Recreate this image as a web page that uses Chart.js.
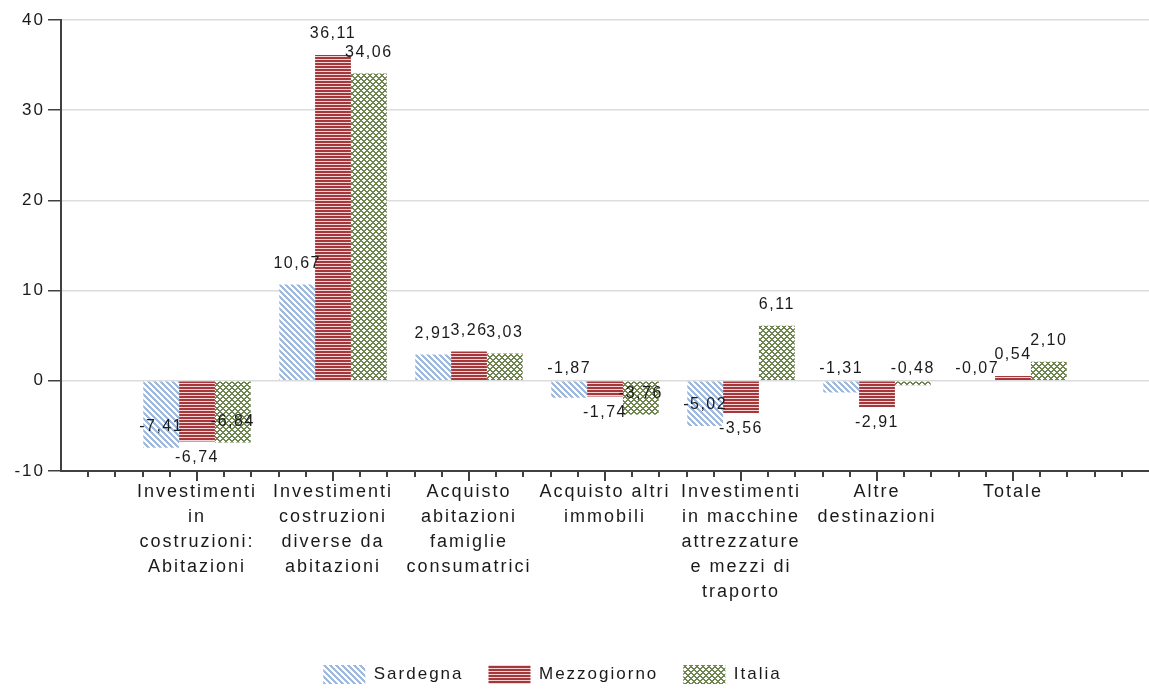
<!DOCTYPE html>
<html lang="it">
<head>
<meta charset="utf-8">
<title>Impieghi per destinazione - variazioni %</title>
<script src="https://cdn.jsdelivr.net/npm/chart.js@4.4.1/dist/chart.umd.min.js"></script>
<style>
    html, body { margin: 0; padding: 0; background: #fff; overflow: hidden; }
    #contenitore { width: 1149px; height: 689px; }
</style>
</head>
<body>
<div id="contenitore"><canvas id="graficoImpieghi" width="1149" height="689"></canvas></div>
<script>
// Dati (variazioni percentuali)
const categorie = [
    ['Investimenti', 'in', 'costruzioni:', 'Abitazioni'],
    ['Investimenti', 'costruzioni', 'diverse da', 'abitazioni'],
    ['Acquisto', 'abitazioni', 'famiglie', 'consumatrici'],
    ['Acquisto altri', 'immobili'],
    ['Investimenti', 'in macchine', 'attrezzature', 'e mezzi di', 'traporto'],
    ['Altre', 'destinazioni'],
    ['Totale']
];
const sardegna    = [-7.41, 10.67, 2.91, -1.87, -5.02, -1.31, -0.07];
const mezzogiorno = [-6.74, 36.11, 3.26, -1.74, -3.56, -2.91, 0.54];
const italia      = [-6.84, 34.06, 3.03, -3.76, 6.11, -0.48, 2.10];
const tickAsseY   = [-10, 0, 10, 20, 30, 40];

document.addEventListener('DOMContentLoaded', function() {
    const canvas = document.getElementById('graficoImpieghi');
    const ctx = canvas.getContext('2d');

    // Piccole texture per i riempimenti (come nel grafico Excel)
    function creaTexture(lato, altezza, disegna) {
        const c = document.createElement('canvas');
        c.width = lato;
        c.height = altezza;
        const g = c.getContext('2d');
        g.fillStyle = '#ffffff';
        g.fillRect(0, 0, lato, altezza);
        disegna(g);
        return ctx.createPattern(c, 'repeat');
    }

    const texSardegna = creaTexture(6, 6, g => {
        g.fillStyle = '#9fb9de';
        for (let y = 0; y < 6; y++) {
            for (let x = 0; x < 6; x++) {
                if (((x - y) % 6 + 6) % 6 < 3) g.fillRect(x, y, 1, 1);
            }
        }
    });
    const texMezzogiorno = creaTexture(1, 3, g => {
        g.fillStyle = '#a5363a';
        g.fillRect(0, 0, 1, 2);
        g.fillStyle = '#f0d6d6';
        g.fillRect(0, 2, 1, 1);
    });
    const texItalia = creaTexture(6, 6, g => {
        g.fillStyle = '#6f8650';
        for (let y = 0; y < 6; y++) {
            for (let x = 0; x < 6; x++) {
                const a = (x + y) % 6, b = ((x - y) % 6 + 6) % 6;
                if (a < 2 || b < 2) g.fillRect(x, y, 1, 1);
            }
        }
    });

    Chart.defaults.font.family = '"Liberation Sans", Arial, sans-serif';
    Chart.defaults.color = '#1a1a1a';

    // spaziatura delle lettere: il testo originale e' molto "largo"
    const spaziatura = {
        id: 'spaziatura',
        beforeUpdate(chart) { chart.ctx.letterSpacing = '2px'; },
        beforeDraw(chart) { chart.ctx.letterSpacing = '2px'; }
    };

    // la legenda nell'originale e' un po' spostata a sinistra
    const posLegenda = {
        id: 'posLegenda',
        afterLayout(chart) {
            chart.legend.left -= 22;
            chart.legend.right -= 22;
        }
    };

    // tacche principali e secondarie sull'asse X
    const tacchetteX = {
        id: 'tacchetteX',
        afterDraw(chart) {
            const asse = chart.scales.x;
            const g = chart.ctx;
            const parti = (chart.data.labels.length - 1) * 5;
            g.save();
            g.strokeStyle = '#404040';
            g.lineWidth = 2;
            for (let i = 1; i < parti; i++) {
                const px = Math.round(asse.getPixelForDecimal(i / parti));
                const lung = i % 5 === 0 ? 10 : 6;
                g.beginPath();
                g.moveTo(px, asse.top);
                g.lineTo(px, asse.top + lung);
                g.stroke();
            }
            g.restore();
        }
    };

    // etichette dei valori con la virgola decimale
    const etichetteValori = {
        id: 'etichetteValori',
        afterDatasetsDraw(chart) {
            const g = chart.ctx;
            const zero = chart.scales.y.getPixelForValue(0);
            const centrale = Math.floor(chart.data.datasets.length / 2);
            g.save();
            g.font = '16px "Liberation Sans", Arial, sans-serif';
            g.letterSpacing = '1.5px';
            g.fillStyle = '#1a1a1a';
            g.textAlign = 'center';
            g.textBaseline = 'middle';
            chart.data.datasets.forEach((ds, i) => {
                chart.getDatasetMeta(i).data.forEach((barra, j) => {
                    const v = ds.data[j];
                    if (v === null || v === undefined) return;
                    let cy;
                    if (v >= 0) {
                        cy = barra.y - 21;
                    } else if (i === centrale) {
                        cy = barra.y + 16;
                    } else if (v > -2.5) {
                        cy = zero - 12;
                    } else {
                        cy = barra.y - 21;
                    }
                    g.fillText(v.toFixed(2).replace('.', ','), barra.x, cy);
                });
            });
            g.restore();
        }
    };

    const vuoto = v => [null, ...v, null];

    new Chart(ctx, {
        type: 'bar',
        data: {
            labels: ['', ...categorie, ''],
            datasets: [
                { label: 'Sardegna', data: vuoto(sardegna), backgroundColor: texSardegna },
                { label: 'Mezzogiorno', data: vuoto(mezzogiorno), backgroundColor: texMezzogiorno },
                { label: 'Italia', data: vuoto(italia), backgroundColor: texItalia }
            ]
        },
        options: {
            responsive: false,
            animation: false,
            events: [],
            categoryPercentage: 0.79,
            barPercentage: 1,
            layout: { padding: { top: 20, right: 0, left: 0, bottom: -5 } },
            plugins: {
                tooltip: { enabled: false },
                legend: {
                    position: 'bottom',
                    labels: {
                        boxWidth: 42,
                        boxHeight: 19,
                        padding: 25,
                        font: { size: 17 },
                        color: '#1a1a1a'
                    }
                }
            },
            scales: {
                x: {
                    offset: false,
                    afterFit: scala => {
                        scala.height = 169;
                        scala.paddingLeft = 0;
                        scala.paddingRight = 0;
                    },
                    grid: { display: true, drawOnChartArea: false, drawTicks: false },
                    border: { color: '#404040', width: 2 },
                    ticks: {
                        autoSkip: false,
                        maxRotation: 0,
                        minRotation: 0,
                        padding: 9,
                        font: { size: 18, lineHeight: 1.38 },
                        color: '#1a1a1a'
                    }
                },
                y: {
                    min: tickAsseY[0],
                    max: tickAsseY[tickAsseY.length - 1],
                    afterFit: scala => { scala.width = 61; },
                    afterBuildTicks: scala => { scala.ticks = tickAsseY.map(v => ({ value: v })); },
                    grid: { color: '#dcdcdc', lineWidth: 1.5, tickColor: '#404040', tickLength: 13 },
                    border: { color: '#404040', width: 2 },
                    ticks: { padding: 3, font: { size: 17 }, color: '#1a1a1a' }
                }
            }
        },
        plugins: [spaziatura, posLegenda, tacchetteX, etichetteValori]
    });
});
</script>
</body>
</html>
